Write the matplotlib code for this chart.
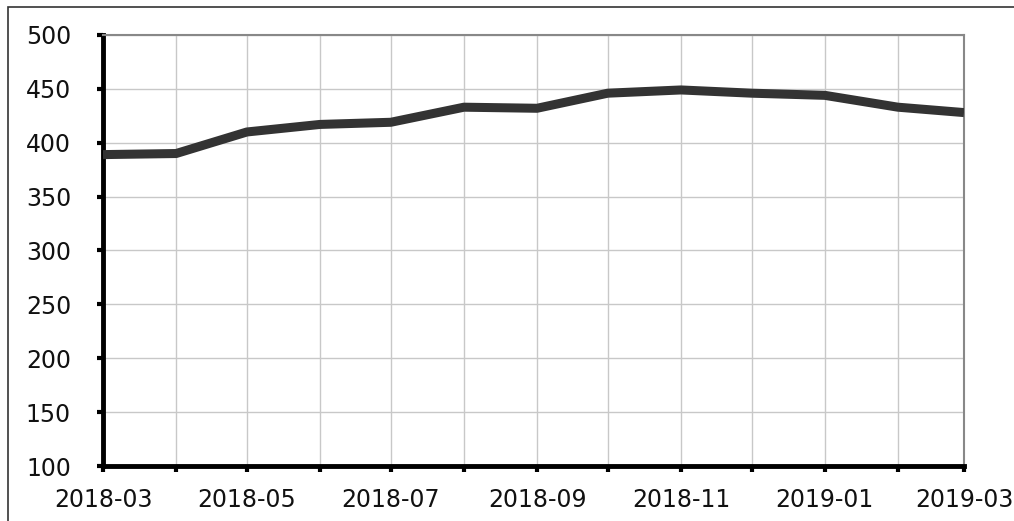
#!/usr/bin/env python3
"""Monthly line chart, 2018-03 to 2019-03."""
import numpy as np
import pandas as pd
import matplotlib
matplotlib.use('Agg')
import matplotlib.pyplot as plt
import matplotlib.dates as mdates
from matplotlib.patches import Rectangle

months = ['2018-03', '2018-04', '2018-05', '2018-06', '2018-07', '2018-08', '2018-09',
          '2018-10', '2018-11', '2018-12', '2019-01', '2019-02', '2019-03']
values = [389, 390, 410, 417, 419, 433, 432, 446, 449, 446, 444, 433, 428]
y_ticks = [100, 150, 200, 250, 300, 350, 400, 450, 500]

dates = pd.to_datetime(months)

plt.rcParams['font.family'] = ['DejaVu Sans']

fig = plt.figure(figsize=(10.14, 5.21), dpi=100)
ax = fig.add_axes([103 / 1014, 55 / 521, 861 / 1014, 431 / 521])

# outer frame, runs off the right and bottom edges
fig.patches.append(Rectangle((8 / 1014, -0.2), 2, 0.2 + (1 - 7 / 521),
                             transform=fig.transFigure, fill=False,
                             edgecolor='#333333', linewidth=1.2))

ax.plot(dates, values, color='#333333', linewidth=6.5, solid_joinstyle='round',
        solid_capstyle='butt', zorder=3)

ax.set_xlim(dates[0], dates[-1])
ax.set_ylim(100, 500)
ax.set_yticks(y_ticks)

ax.xaxis.set_major_locator(mdates.MonthLocator(bymonth=[1, 3, 5, 7, 9, 11]))
ax.xaxis.set_minor_locator(mdates.MonthLocator())
ax.xaxis.set_major_formatter(mdates.DateFormatter('%Y-%m'))

ax.grid(True, which='both', axis='x', color='#c8c8c8', linewidth=1)
ax.grid(True, which='major', axis='y', color='#c8c8c8', linewidth=1)
ax.set_axisbelow(True)

for side in ('left', 'bottom'):
    ax.spines[side].set_color('black')
    ax.spines[side].set_linewidth(3.5)
for side in ('top', 'right'):
    ax.spines[side].set_color('#888888')
    ax.spines[side].set_linewidth(1.5)

ax.tick_params(axis='both', which='both', direction='out', length=4, width=3,
               color='black', labelsize=17, labelcolor='#111111')
ax.tick_params(axis='y', pad=19)
ax.tick_params(axis='x', pad=12)

fig.savefig('out.png', dpi=100)
